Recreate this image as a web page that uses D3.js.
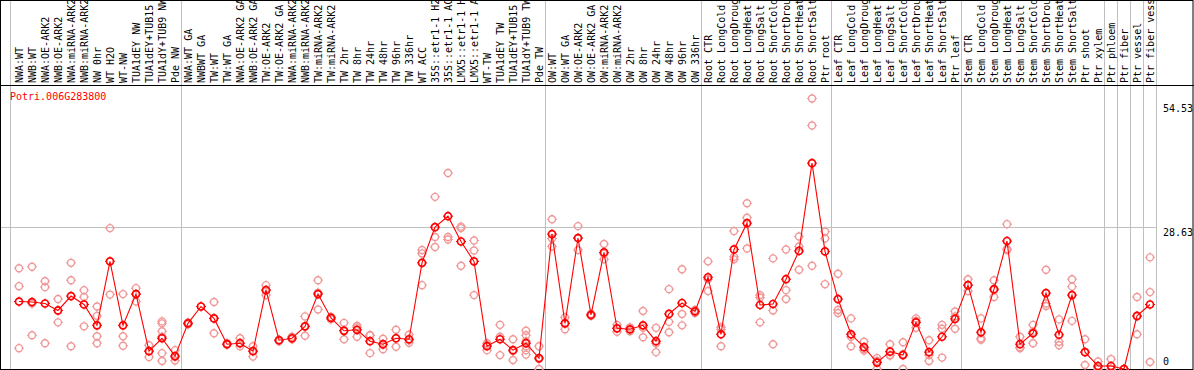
<!DOCTYPE html>
<html><head><meta charset="utf-8">
<script src="https://cdn.jsdelivr.net/npm/d3@7"></script>
<style>body{margin:0;background:#fff}svg{display:block}</style>
</head><body>
<svg id="chart" width="1194" height="370"></svg>
<script>
const geneName = "Potri.006G283800";
const categories = [
 "NWA:WT","NWB:WT","NWA:OE-ARK2","NWB:OE-ARK2","NWA:miRNA-ARK2","NWB:miRNA-ARK2","NW 0hr","WT H2O","WT-NW","TUA1dEY NW","TUA1dEY+TUB15 NW","TUA1dY+TUB9 NW","Pde NW",
 "NWA:WT GA","NWBWT GA","TW:WT","TW:WT GA","NWA:OE-ARK2 GA","NWB:OE-ARK2 GA","TW:OE-ARK2","TW:OE-ARK2 GA","NWA:miRNA-ARK2 GA","NWB:miRNA-ARK2 GA","TW:miRNA-ARK2","TW:miRNA-ARK2 GA","TW 2hr","TW 8hr","TW 24hr","TW 48hr","TW 96hr","TW 336hr","WT ACC","35S::etr1-1 H2O","35S::etr1-1 ACC","LMX5::etr1-1 H2O","LMX5::etr1-1 ACC","WT-TW","TUA1dEY TW","TUA1dEY+TUB15 TW","TUA1dY+TUB9 TW","Pde TW",
 "OW:WT","OW:WT GA","OW:OE-ARK2","OW:OE-ARK2 GA","OW:miRNA-ARK2","OW:miRNA-ARK2 GA","OW 2hr","OW 8hr","OW 24hr","OW 48hr","OW 96hr","OW 336hr",
 "Root CTR","Root LongCold","Root LongDrought","Root LongHeat","Root LongSalt","Root ShortCold","Root ShortDrought","Root ShortHeat","Root ShortSalt","Ptr root",
 "Leaf CTR","Leaf LongCold","Leaf LongDrought","Leaf LongHeat","Leaf LongSalt","Leaf ShortCold","Leaf ShortDrought","Leaf ShortHeat","Leaf ShortSalt","Ptr leaf",
 "Stem CTR","Stem LongCold","Stem LongDrought","Stem LongHeat","Stem LongSalt","Stem ShortCold","Stem ShortDrought","Stem ShortHeat","Stem ShortSalt","Ptr shoot",
 "Ptr xylem","Ptr phloem","Ptr fiber","Ptr vessel","Ptr fiber vessel"
];
const means = [
 13.6,13.5,13.2,11.8,14.7,13.0,8.8,21.7,8.8,15.1,3.6,6.2,2.6,
 9.2,12.6,10.2,5.0,5.2,3.6,15.9,5.8,6.2,8.6,15.1,10.3,7.7,7.9,5.6,5.0,6.2,6.0,21.4,28.6,30.8,25.7,21.7,4.6,6.0,3.8,5.2,2.2,
 27.2,9.2,26.4,10.9,23.5,8.2,8.0,8.8,5.6,11.1,13.3,11.6,
 18.5,7.0,24.1,29.4,12.9,13.1,18.1,23.8,41.5,23.7,
 14.1,7.0,4.4,1.3,3.5,2.8,9.4,3.4,6.5,10.1,
 16.9,7.4,16.1,25.8,5.0,7.2,15.3,6.9,14.9,3.4,
 0.6,0.6,0.0,10.7,13.0
];
const replicates = [
 [20.3,16.7,4.2],[20.6,13.2,6.8],[17.7,16.5,5.2],[14.1,11.8,9.4],[21.4,17.9,4.6],[15.9,14.5,8.6],[12.6,10.7,6.6,5.2],[28.4,15.0],[15.1,6.6,4.7],[16.3,15.1,13.6],[4.8,3.6,2.4],[9.6,9.2,7.6,6.5,3.2,1.6],[3.8,2.4,1.7],
 [9.4,9.0],[12.6],[13.5,10.2,7.2],[5.2,4.9],[6.2,5.2,4.6],[4.6,3.6,2.5],[16.9,15.9,14.9],[5.9,5.6],[6.5,6.0],[10.6,8.6,6.7],[17.9,15.4,12.0],[10.5,10.0],[9.3,7.8,6.0],[8.7,8.4,6.5],[6.8,6.8,3.2],[6.1,4.9,4.0],[7.9,6.2,4.5],[6.9,5.8,5.3],[24.0,23.3,16.9],[34.7,26.6,24.6],[39.5,26.6,26.1],[28.7,28.4,20.8],[25.9,23.9,14.9],[5.2,4.8,3.8],[8.9,6.5,2.8],[6.0,3.6,1.8],[7.7,6.8,5.6,4.6,3.8,2.9],[4.6,2.0,0.0],
 [30.2,26.3,24.7],[10.4,9.2,8.0],[28.8,26.4,24.0],[11.1,10.7],[25.2,23.2,22.1],[8.9,7.5],[8.4,7.6],[11.7,8.3,6.4],[8.3,5.2,3.4],[16.1,9.5,7.4],[20.1,11.1,8.8],[11.9,11.3],
 [21.7,18.1,15.7],[8.4,8.0,4.6],[27.8,22.6,22.1],[33.4,30.5,24.3],[14.9,14.4,9.4],[22.3,11.8,5.0],[24.1,15.9,14.1],[26.7,24.7,20.0],[54.53,49.1,20.8],[27.7,26.3,17.1],
 [19.2,11.9,11.3],[10.2,6.5,4.6],[5.5,4.0,3.7],[2.2,1.6,0.0],[5.0,2.8,2.7],[5.4,3.0,0.0],[10.2,9.7,8.3],[5.8,2.8,1.6],[8.9,8.1,2.3],[11.6,10.6,8.1],
 [18.1,16.9,15.7],[10.2,6.2,5.9],[17.9,15.9,14.5],[29.2,24.2,24.0],[6.5,4.4,4.2],[8.9,7.5,5.2],[20.0,13.2,12.7],[10.0,5.5,4.8],[18.1,16.6,9.7],[6.0,3.4,0.8],
 [1.5,0.3,0.0],[2.0,0.0,0.0],[0.0,0.0,0.0],[14.5,10.6,7.0],[22.5,15.5,1.4]
];
// group boundaries: a separator is drawn after these categories
const separatorsAfter = ["Pde NW","Pde TW","OW 336hr","Ptr root","Ptr leaf","Ptr xylem","Ptr phloem","Ptr fiber","Ptr vessel","Ptr fiber vessel"];
const yTickValues = [0, 28.63, 54.53];
const yGridValues = [28.63];

const W = 1194, H = 370;
const svg = d3.select("#chart");
const FONT = "'DejaVu Sans Mono', monospace";

const x = d3.scalePoint().domain(categories).range([19, 1150]);
const y = d3.scaleLinear().domain([0, 54.53]).range([369, 98.5]);
const headerY = 85.5, plotRight = 1156;

// vertical separators (span full height incl. header)
const sepX = [x(categories[0]) - 9].concat(separatorsAfter.map(c => x(c) + 5.5));
svg.append("g").selectAll("line").data(sepX).join("line")
  .attr("x1", d => Math.round(d) + 0.5).attr("x2", d => Math.round(d) + 0.5)
  .attr("y1", 0).attr("y2", H)
  .attr("stroke", "#c0c0c0").attr("stroke-width", 1);

// horizontal grid
svg.append("g").selectAll("line").data(yGridValues).join("line")
  .attr("x1", 0).attr("x2", plotRight)
  .attr("y1", d => Math.round(y(d)) + 0.5).attr("y2", d => Math.round(y(d)) + 0.5)
  .attr("stroke", "#c0c0c0").attr("stroke-width", 1);

// borders
svg.append("rect").attr("x", 0.5).attr("y", 0.5).attr("width", W - 1.5).attr("height", H - 1)
  .attr("fill", "none").attr("stroke", "#000").attr("stroke-width", 1);
svg.append("line").attr("x1", 0).attr("x2", W).attr("y1", headerY).attr("y2", headerY)
  .attr("stroke", "#000").attr("stroke-width", 1);

// header labels
svg.append("g").selectAll("text").data(categories).join("text")
  .attr("transform", d => `translate(${x(d) + 4},83) rotate(-90)`)
  .attr("text-anchor", "start")
  .style("font-family", FONT).style("font-size", "10px").attr("fill", "#000")
  .text(d => d);

// title
svg.append("text").attr("x", 10).attr("y", 99.5)
  .style("font-family", FONT).style("font-size", "10px").attr("fill", "#ff0000")
  .text(geneName);

// right axis labels
svg.append("g").selectAll("text").data(yTickValues).join("text")
  .attr("x", 1163)
  .attr("y", d => Math.max(111.7, Math.min(365.4, y(d) + 8.7)))
  .style("font-family", FONT).style("font-size", "10px").attr("fill", "#000")
  .text(d => d);

const plot = svg.append("g");
function marker(sel, color, sw) {
  sel.append("circle").attr("r", 3.5).attr("fill", "none").attr("stroke", color).attr("stroke-width", sw);
  sel.append("path").attr("d", "M0,-5V-3.5M0,3.5V5M-5,0H-3.5M3.5,0H5")
    .attr("stroke", color).attr("stroke-width", 1).attr("fill", "none");
}
// replicates
const repData = [];
categories.forEach((c, i) => replicates[i].forEach(v => repData.push({c, v})));
plot.append("g").selectAll("g").data(repData).join("g")
  .attr("transform", d => `translate(${x(d.c)},${y(d.v)})`)
  .each(function() { marker(d3.select(this), "#f09898", 1.4); });

// mean line
const meanData = categories.map((c, i) => ({c, v: means[i]}));
plot.append("path").datum(meanData)
  .attr("d", d3.line().x(d => x(d.c)).y(d => y(d.v)))
  .attr("fill", "none").attr("stroke", "#ff0000").attr("stroke-width", 1.1);
plot.append("g").selectAll("g").data(meanData).join("g")
  .attr("transform", d => `translate(${x(d.c)},${y(d.v)})`)
  .each(function() { marker(d3.select(this), "#ff0000", 1.7); });
</script>
</body></html>
